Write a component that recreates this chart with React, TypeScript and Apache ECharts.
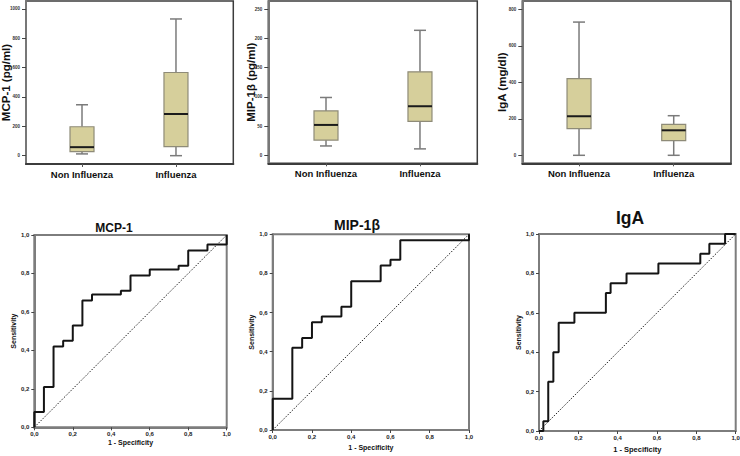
import React, { useEffect, useRef } from 'react';
import * as echarts from 'echarts';

// ---------- Data ----------
const groups = ['Non Influenza', 'Influenza'];

// [min, q1, median, q3, max]
const mcp1Box = [
  [12, 27, 58, 197, 347],
  [0, 61, 284, 567, 932],
];
const mip1bBox = [
  [16, 26, 52, 76, 99],
  [11, 58, 84, 143, 214],
];
const igaBox = [
  [0, 146, 214, 420, 730],
  [0, 80, 137, 170, 217],
];

const mcp1Ticks = [0, 200, 400, 600, 800, 1000];
const mip1bTicks = [0, 50, 100, 150, 200, 250];
const igaTicks = [0, 200, 400, 600, 800];

const rocTicks = [0, 0.2, 0.4, 0.6, 0.8, 1.0];

const mcp1Fpr = [0, 0, 0.05, 0.1, 0.15, 0.2, 0.25, 0.3, 0.45, 0.5, 0.6, 0.75, 0.8, 0.9, 1];
const mcp1Tpr = [0, 0.08, 0.21, 0.42, 0.45, 0.53, 0.66, 0.69, 0.71, 0.79, 0.82, 0.84, 0.92, 0.95, 1];

const mip1bFpr = [0, 0, 0.1, 0.15, 0.2, 0.25, 0.35, 0.4, 0.55, 0.6, 0.65, 1];
const mip1bTpr = [0, 0.16, 0.42, 0.47, 0.55, 0.58, 0.63, 0.76, 0.84, 0.87, 0.97, 1];

const igaFpr = [0, 0.022, 0.047, 0.073, 0.1, 0.18, 0.34, 0.364, 0.445, 0.607, 0.82, 0.866, 0.946, 1];
const igaTpr = [0, 0.05, 0.25, 0.4, 0.55, 0.6, 0.7, 0.75, 0.8, 0.85, 0.9, 0.95, 1, 1];

const diagonal = [0, 1];

// ---------- Helpers ----------
const FONT = 'Liberation Sans, Arial, sans-serif';
const BOX_FILL = '#d6cf9b';
const BOX_STROKE = '#8e8b78';
const WHISKER = '#7b7b7b';

function boxRender(_params: any, api: any) {
  const x = api.value(0);
  const lo = api.coord([x, api.value(1)]);
  const q1 = api.coord([x, api.value(2)]);
  const med = api.coord([x, api.value(3)]);
  const q3 = api.coord([x, api.value(4)]);
  const hi = api.coord([x, api.value(5)]);
  const hw = 12;
  const cw = 6;
  const cx = lo[0];
  const ws = { stroke: WHISKER, lineWidth: 1.5 };
  return {
    type: 'group',
    children: [
      { type: 'line', shape: { x1: cx, y1: lo[1], x2: cx, y2: q1[1] }, style: ws },
      { type: 'line', shape: { x1: cx, y1: q3[1], x2: cx, y2: hi[1] }, style: ws },
      { type: 'line', shape: { x1: cx - cw, y1: lo[1], x2: cx + cw, y2: lo[1] }, style: ws },
      { type: 'line', shape: { x1: cx - cw, y1: hi[1], x2: cx + cw, y2: hi[1] }, style: ws },
      {
        type: 'rect',
        shape: { x: cx - hw, y: q3[1], width: hw * 2, height: q1[1] - q3[1] },
        style: { fill: BOX_FILL, stroke: BOX_STROKE, lineWidth: 1.2 },
      },
      {
        type: 'line',
        shape: { x1: cx - hw, y1: med[1], x2: cx + hw, y2: med[1] },
        style: { stroke: '#1b1b1b', lineWidth: 2 },
      },
    ],
  };
}

const boxGrids = [
  { left: 26, top: 1, width: 207.3, height: 163 },
  { left: 268.3, top: 1, width: 209, height: 162.3 },
  { left: 522.3, top: 1, width: 208.7, height: 162.3 },
];
const rocGrids = [
  { left: 34.3, top: 235, width: 192.4, height: 192.3 },
  { left: 272.7, top: 234.3, width: 196.3, height: 195.7 },
  { left: 539, top: 234, width: 196.7, height: 197 },
];

const boxSets = [
  { box: mcp1Box, ticks: mcp1Ticks, name: 'MCP-1 (pg/ml)', min: -56.8, max: 1054.5, xmin: -0.596, xmax: 1.61, gap: 14.5 },
  { box: mip1bBox, ticks: mip1bTicks, name: 'MIP-1β (pg/ml)', min: -13.7, max: 264.2, xmin: -0.614, xmax: 1.61, gap: 11 },
  { box: igaBox, ticks: igaTicks, name: 'IgA (mg/dl)', min: -43.8, max: 845.5, xmin: -0.599, xmax: 1.605, gap: 14 },
];

const rocSets = [
  { fpr: mcp1Fpr, tpr: mcp1Tpr, title: 'MCP-1', tx: 114, ty: 228, fs: 12, ygap: 16, xgap: 12, xfs: 7 },
  { fpr: mip1bFpr, tpr: mip1bTpr, title: 'MIP-1β', tx: 357, ty: 225, fs: 14, ygap: 14.5, xgap: 14, xfs: 7 },
  { fpr: igaFpr, tpr: igaTpr, title: 'IgA', tx: 630, ty: 218, fs: 17.5, ygap: 16, xgap: 14, xfs: 7.5 },
];

const fmtComma = (v: number) => v.toFixed(1).replace('.', ',');

function buildOption() {
  const grid: any[] = [];
  const xAxis: any[] = [];
  const yAxis: any[] = [];
  const series: any[] = [];
  const graphic: any[] = [];

  boxSets.forEach((s, i) => {
    grid.push({
      ...boxGrids[i],
      show: true,
      borderColor: '#3c3c3c',
      borderWidth: 1.5,
      backgroundColor: 'transparent',
      containLabel: false,
      outerBoundsMode: 'none',
    });
    xAxis.push({
      type: 'value',
      gridIndex: i,
      min: s.xmin,
      max: s.xmax,
      splitLine: { show: false },
      axisLine: { show: true, onZero: false, lineStyle: { color: '#3c3c3c', width: 2 } },
      axisTick: { show: true, customValues: [0, 1], length: 3, lineStyle: { color: '#555', width: 1 } },
      axisLabel: {
        customValues: [0, 1],
        formatter: (v: number) => groups[Math.round(v)] ?? '',
        margin: 5,
        fontSize: 9.5,
        fontWeight: 'bold',
        fontFamily: FONT,
        color: '#111',
      },
    });
    yAxis.push({
      type: 'value',
      gridIndex: i,
      min: s.min,
      max: s.max,
      name: s.name,
      nameLocation: 'middle',
      nameRotate: 90,
      nameGap: s.gap,
      nameMoveOverlap: false,
      nameTextStyle: { fontSize: 11.5, fontWeight: 'bold', fontFamily: FONT, color: '#111' },
      splitLine: { show: false },
      axisLine: { show: true, onZero: false, lineStyle: { color: '#777', width: 2 } },
      axisTick: { show: true, customValues: s.ticks, length: 4, lineStyle: { color: '#444', width: 1 } },
      axisLabel: {
        customValues: s.ticks,
        formatter: (v: number) => String(Math.round(v)),
        margin: 6,
        fontSize: 4.5,
        fontWeight: 'bold',
        fontFamily: FONT,
        color: '#333',
      },
    });
    series.push({
      type: 'custom',
      xAxisIndex: i,
      yAxisIndex: i,
      renderItem: boxRender,
      encode: { x: 0, y: [1, 2, 3, 4, 5] },
      data: groups.map((_, gi) => [gi, ...s.box[gi]]),
      silent: true,
    });
  });

  rocSets.forEach((s, j) => {
    const i = j + 3;
    grid.push({
      ...rocGrids[j],
      show: true,
      borderColor: '#7d7d7d',
      borderWidth: 2,
      backgroundColor: 'transparent',
      containLabel: false,
      outerBoundsMode: 'none',
    });
    xAxis.push({
      type: 'value',
      gridIndex: i,
      min: 0,
      max: 1,
      name: '1 - Specificity',
      nameLocation: 'middle',
      nameGap: s.xgap,
      nameTextStyle: { fontSize: s.xfs, fontWeight: 'bold', fontFamily: FONT, color: '#111' },
      splitLine: { show: false },
      axisLine: { show: true, onZero: false, lineStyle: { color: '#7d7d7d', width: 2 } },
      axisTick: { show: true, customValues: rocTicks, length: 3, lineStyle: { color: '#444', width: 1 } },
      axisLabel: {
        customValues: rocTicks,
        formatter: fmtComma,
        margin: 4,
        fontSize: 6,
        fontWeight: 'bold',
        fontFamily: FONT,
        color: '#222',
      },
    });
    yAxis.push({
      type: 'value',
      gridIndex: i,
      min: 0,
      max: 1,
      name: 'Sensitivity',
      nameLocation: 'middle',
      nameRotate: 90,
      nameGap: s.ygap,
      nameTextStyle: { fontSize: 7, fontWeight: 'bold', fontFamily: FONT, color: '#111' },
      splitLine: { show: false },
      axisLine: { show: true, onZero: false, lineStyle: { color: '#7d7d7d', width: 2 } },
      axisTick: { show: true, customValues: rocTicks, length: 3, lineStyle: { color: '#444', width: 1 } },
      axisLabel: {
        customValues: rocTicks,
        formatter: fmtComma,
        margin: 5,
        fontSize: 6,
        fontWeight: 'bold',
        fontFamily: FONT,
        color: '#222',
      },
    });
    series.push({
      type: 'line',
      xAxisIndex: i,
      yAxisIndex: i,
      data: diagonal.map((d) => [d, d]),
      symbol: 'none',
      silent: true,
      lineStyle: { color: '#222', width: 1, type: [1.5, 1.5] },
      z: 2,
    });
    series.push({
      type: 'line',
      xAxisIndex: i,
      yAxisIndex: i,
      step: 'end',
      data: s.fpr.map((f, k) => [f, s.tpr[k]]),
      symbol: 'none',
      silent: true,
      lineStyle: { color: '#141414', width: 2 },
      z: 3,
    });
    graphic.push({
      type: 'text',
      x: s.tx,
      y: s.ty,
      style: {
        text: s.title,
        align: 'center',
        verticalAlign: 'middle',
        fontSize: s.fs,
        fontWeight: 'bold',
        fontFamily: FONT,
        fill: '#111',
      },
    });
  });

  return {
    animation: false,
    backgroundColor: '#ffffff',
    grid,
    xAxis,
    yAxis,
    series,
    graphic,
  };
}

export default function App() {
  const ref = useRef<HTMLDivElement>(null);
  useEffect(() => {
    if (!ref.current) return;
    const chart = echarts.init(ref.current, undefined, { renderer: 'svg' });
    chart.setOption(buildOption() as any);
    return () => chart.dispose();
  }, []);
  return (
    <div
      ref={ref}
      style={{ position: 'fixed', left: 0, top: 0, width: 740, height: 456, background: '#fff' }}
    />
  );
}
